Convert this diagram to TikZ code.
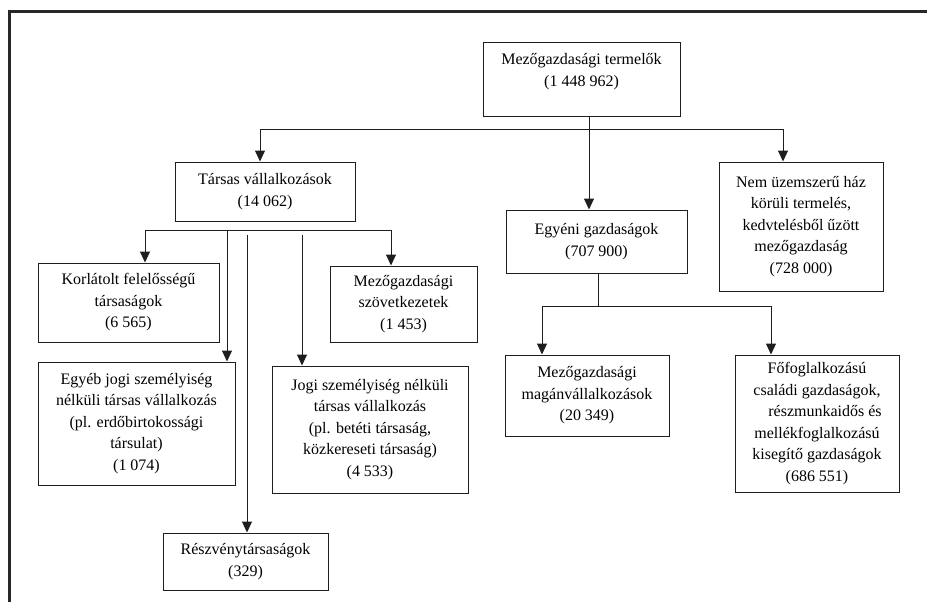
\documentclass[tikz,border=0pt]{standalone}
\usepackage{fontspec}
\setmainfont{Liberation Serif}
\usetikzlibrary{arrows.meta}
\begin{document}
\begin{tikzpicture}[x=1pt,y=-1pt,
  ln/.style={line width=1pt,draw={rgb,255:red,30;green,30;blue,30}},
  arr/.style={ln,-{Triangle[width=10pt,length=11pt]}},
  box/.style={ln,rectangle,inner sep=0pt,align=center,font=\fontsize{16}{21.5}\selectfont},
  txt/.style={inner sep=0pt,align=center,font=\fontsize{16}{21.5}\selectfont}]
\useasboundingbox (0,0) rectangle (927,602);
% frame
\draw[line width=2.2pt,draw={rgb,255:red,40;green,40;blue,40}] (9.5,602) -- (9.5,11.5) -- (927,11.5);
% boxes
\node[box,minimum width=197,minimum height=73] (top) at (581.5,79.5) {};
\node[txt] (toptxt) at (581.5,71.5) {Mezőgazdasági termelők\\(1 448 962)};
\node[box,minimum width=180,minimum height=59] (tar) at (265,191.5) {Társas vállalkozások\\(14 062)};
\node[box,minimum width=181,minimum height=63] (egy) at (596.5,241.5) {Egyéni gazdaságok\\(707 900)};
\node[box,minimum width=164,minimum height=129] (nem) at (801,226.5) {Nem üzemszerű ház\\körüli termelés,\\kedvtelésből űzött\\mezőgazdaság\\(728 000)};
\node[box,minimum width=181,minimum height=79] (kor) at (128.5,302.5) {Korlátolt felelősségű\\társaságok\\(6 565)};
\node[box,minimum width=147,minimum height=76] (szo) at (403.5,304) {Mezőgazdasági\\szövetkezetek\\(1 453)};
\node[box,minimum width=197,minimum height=123] (ege) at (136.5,423.5) {Egyéb jogi személyiség\\nélküli társas vállalkozás\\(pl. erdőbirtokossági\\társulat)\\(1 074)};
\node[box,minimum width=196,minimum height=127] (jog) at (370,429.5) {Jogi személyiség nélküli\\társas vállalkozás\\(pl. betéti társaság,\\közkereseti társaság)\\(4 533)};
\node[box,minimum width=165,minimum height=57] (rsz) at (245.5,561.5) {Részvénytársaságok\\(329)};
\node[box,minimum width=164,minimum height=81] (mag) at (587,395.5) {Mezőgazdasági\\magánvállalkozások\\(20 349)};
\node[box,minimum width=164,minimum height=137] (fof) at (817,423.5) {Főfoglalkozású\\családi gazdaságok,\\\hspace*{16pt}részmunkaidős és\\mellékfoglalkozású\\kisegítő gazdaságok\\(686 551)};
% bus 1
\coordinate (b1l) at (260,129);
\coordinate (b1m) at (589,129);
\coordinate (b1r) at (783,129);
\draw[ln] (b1l) -- (b1r);
\draw[arr] (b1l) -- (b1l |- tar.north);
\draw[arr] (b1r) -- (b1r |- nem.north);
\draw[arr] (b1m |- top.south) -- (b1m |- egy.north);
% bus 2
\coordinate (b2l) at (145,230);
\coordinate (b2e) at (227,230);
\coordinate (b2r) at (391,230);
\coordinate (b2rs) at (247,235);
\coordinate (b2j) at (302,235);
\draw[ln] (b2l) -- (b2r);
\draw[arr] (b2l) -- (b2l |- kor.north);
\draw[arr] (b2r) -- (b2r |- szo.north);
\draw[arr] (b2e) -- (b2e |- ege.north);
\draw[arr] (b2rs) -- (b2rs |- rsz.north);
\draw[arr] (b2j) -- (b2j |- jog.north);
% bus 3
\coordinate (b3m) at (598,306);
\coordinate (b3l) at (542,306);
\coordinate (b3r) at (771,306);
\draw[ln] (b3m |- egy.south) -- (b3m);
\draw[ln] (b3l) -- (b3r);
\draw[arr] (b3l) -- (b3l |- mag.north);
\draw[arr] (b3r) -- (b3r |- fof.north);
\end{tikzpicture}
\end{document}
